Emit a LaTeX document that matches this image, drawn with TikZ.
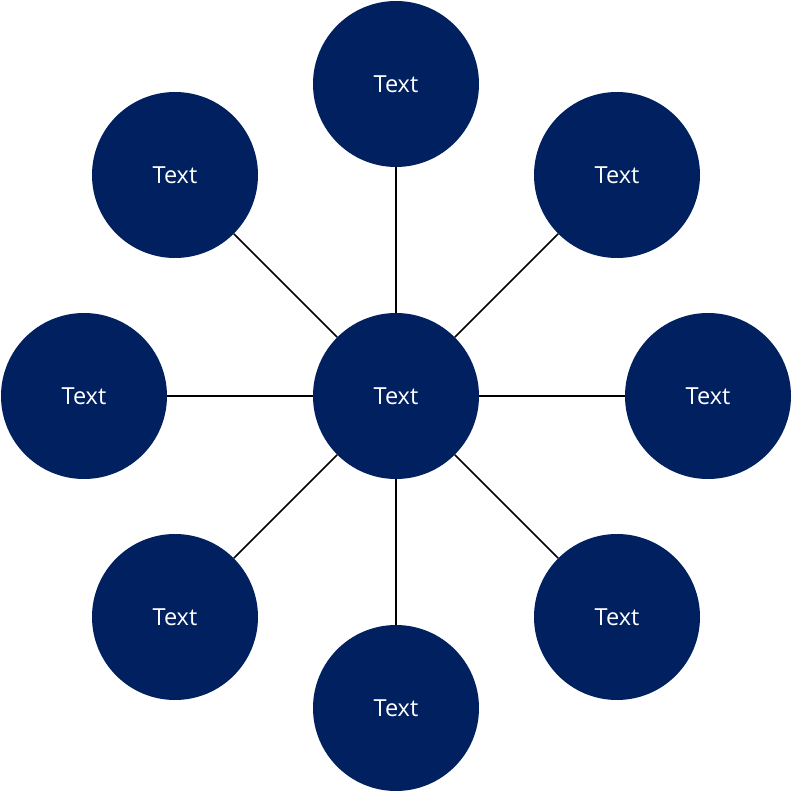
\documentclass[tikz,border=0pt]{standalone}
\usepackage{fontspec}
\setmainfont{Open Sans}
\definecolor{navy}{HTML}{002060}
\tikzset{
    bubble/.style={circle, fill=navy, minimum size=166pt, inner sep=0pt,
        text=white, font=\fontsize{23.5}{26}\selectfont},
    spoke/.style={draw=black, line width=1.5pt}
}
\begin{document}
\begin{tikzpicture}[x=1pt, y=1pt]
            \useasboundingbox (-396, -396) rectangle (396, 396);

            \node[bubble] (hub) at (0, 0) {Text};

            \node[bubble] (n) at (0, 312) {Text};
            \node[bubble] (ne) at (221, 221) {Text};
            \node[bubble] (e) at (312, 0) {Text};
            \node[bubble] (se) at (221, -221) {Text};
            \node[bubble] (s) at (0, -312) {Text};
            \node[bubble] (sw) at (-221, -221) {Text};
            \node[bubble] (w) at (-312, 0) {Text};
            \node[bubble] (nw) at (-221, 221) {Text};

            \draw[spoke] (hub) -- (n);
            \draw[spoke] (hub) -- (ne);
            \draw[spoke] (hub) -- (e);
            \draw[spoke] (hub) -- (se);
            \draw[spoke] (hub) -- (s);
            \draw[spoke] (hub) -- (sw);
            \draw[spoke] (hub) -- (w);
            \draw[spoke] (hub) -- (nw);
        \end{tikzpicture}
\end{document}
